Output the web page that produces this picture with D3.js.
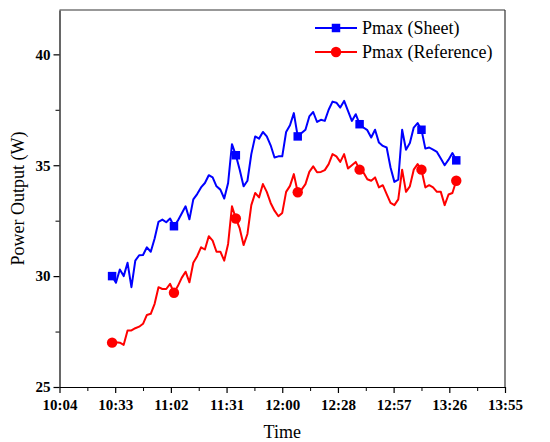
<!DOCTYPE html>
<html>
<head>
<meta charset="utf-8">
<script src="https://cdn.jsdelivr.net/npm/d3@7"></script>
<style>
  body { margin: 0; background: #fff; }
  svg text { font-family: "Liberation Serif", "Times New Roman", serif; }
</style>
</head>
<body>
<div id="chart"></div>
<script>
var width = 550,
    height = 442;
var margin = { top: 10, right: 45, bottom: 55, left: 59.5 };

// time of each sample (hh:mm)
var times = [
  '10:32','10:34','10:36','10:38','10:40','10:42','10:44','10:46','10:48','10:50','10:52','10:54','10:56','10:58',
  '11:00','11:02','11:04','11:06','11:08','11:10','11:12','11:14','11:16','11:18','11:20','11:22','11:24','11:26','11:28','11:30',
  '11:32','11:34','11:36','11:38','11:40','11:42','11:44','11:46','11:48','11:50','11:52','11:54','11:56','11:58',
  '12:00','12:02','12:04','12:06','12:08','12:10','12:12','12:14','12:16','12:18','12:20','12:22','12:24','12:26','12:28','12:30',
  '12:32','12:34','12:36','12:38','12:40','12:42','12:44','12:46','12:48','12:50','12:52','12:54','12:56','12:58',
  '13:00','13:02','13:04','13:06','13:08','13:10','13:12','13:14','13:16','13:18','13:20','13:22','13:24','13:26','13:28','13:30'
];

var pmaxSheet = [
  30.0, 29.7, 30.3, 30.0, 30.6, 29.5, 30.7, 30.94, 30.95, 31.3,
  31.1, 31.7, 32.45, 32.55, 32.43, 32.6, 32.25, 32.5, 32.82, 33.15,
  32.56, 33.46, 33.7, 34.0, 34.2, 34.55, 34.45, 34.05, 33.9, 33.5,
  34.2, 35.95, 35.45, 34.8, 34.05, 34.3, 35.5, 36.3, 36.2, 36.5,
  36.3, 35.9, 35.35, 35.4, 35.4, 36.5, 36.8, 37.35, 36.3, 36.45,
  36.6, 37.2, 37.4, 36.95, 37.05, 37.0, 37.5, 37.87, 37.82, 37.6,
  37.9, 37.45, 37.0, 37.3, 36.85, 36.7, 36.58, 36.25, 36.6, 36.02,
  35.87, 35.8, 34.9, 34.25, 34.35, 36.6, 35.7, 36.0, 36.7, 36.9,
  36.6, 35.75, 35.8, 35.7, 35.6, 35.3, 35.0, 35.25, 35.55, 35.22
];

var pmaxReference = [
  27.0, 27.02, 27.0, 26.9, 27.55, 27.55, 27.65, 27.72, 27.85, 28.25,
  28.3, 28.75, 29.5, 29.42, 29.42, 29.65, 29.25, 29.55, 29.92, 30.2,
  29.72, 30.6, 30.9, 31.3, 31.2, 31.8, 31.6, 31.1, 31.1, 30.7,
  31.45, 33.15, 32.6, 32.15, 31.4, 31.9, 33.2, 33.75, 33.55, 34.15,
  33.8, 33.3, 32.95, 32.7, 32.85, 33.8, 34.07, 34.6, 33.78, 33.9,
  34.15, 34.7, 34.95, 34.68, 34.7, 34.78, 35.05, 35.5, 35.4, 35.15,
  35.5, 34.85, 35.0, 35.15, 34.8, 34.67, 34.37, 34.3, 34.45, 34.0,
  34.1, 33.7, 33.3, 33.2, 33.46, 34.8, 33.8, 34.05, 34.8, 35.05,
  34.8, 34.0, 34.1, 34.0, 33.8, 33.8, 33.2, 33.68, 33.75, 34.3
];

// sample indices that carry a symbol
var markerIdx = [0, 16, 32, 48, 64, 80, 89];

// axis ticks (minutes after midnight) and their labels
var xTicks = [604.8, 633.6, 662.4, 691.2, 720, 748.8, 777.6, 806.4, 835.2];
var xTickLabels = ['10:04', '10:33', '11:02', '11:31', '12:00', '12:28', '12:57', '13:26', '13:55'];
var yTicks = [25, 30, 35, 40];

var series = [
  { name: 'Pmax (Sheet)', values: pmaxSheet, color: '#0000ff', symbol: d3.symbolSquare },
  { name: 'Pmax (Reference)', values: pmaxReference, color: '#ff0000', symbol: d3.symbolCircle }
];

function toMinutes(s) {
  var p = s.split(':');
  return +p[0] * 60 + +p[1];
}
var mins = times.map(toMinutes);

var plotW = width - margin.left - margin.right,
    plotH = height - margin.top - margin.bottom;

var svg = d3.select('#chart')
  .append('svg')
  .attr('width', width)
  .attr('height', height);

var g = svg.append('g')
  .attr('transform', 'translate(' + margin.left + ',' + margin.top + ')');

var xScale = d3.scaleLinear()
  .domain([xTicks[0], xTicks[xTicks.length - 1]])
  .range([0, plotW]);

var yScale = d3.scaleLinear()
  .domain([25, 42])
  .range([plotH, 0]);

// minor ticks halfway between majors
var xMinor = xTicks.slice(1).map(function (t, i) { return (t + xTicks[i]) / 2; });
var yMinor = [27.5, 32.5, 37.5];

g.append('g')
  .attr('transform', 'translate(0,' + plotH + ')')
  .call(d3.axisBottom(xScale).tickValues(xMinor).tickSize(4).tickFormat(''))
  .call(function (a) { a.select('.domain').remove(); a.selectAll('line').attr('stroke', '#000'); });

g.append('g')
  .call(d3.axisLeft(yScale).tickValues(yMinor).tickSize(4).tickFormat(''))
  .call(function (a) { a.select('.domain').remove(); a.selectAll('line').attr('stroke', '#000'); });

var xAxis = g.append('g')
  .attr('transform', 'translate(0,' + plotH + ')')
  .call(d3.axisBottom(xScale)
    .tickValues(xTicks)
    .tickSize(6)
    .tickSizeOuter(0)
    .tickPadding(6)
    .tickFormat(function (d, i) { return xTickLabels[i]; }));

var yAxis = g.append('g')
  .call(d3.axisLeft(yScale)
    .tickValues(yTicks)
    .tickSize(6)
    .tickSizeOuter(0)
    .tickPadding(3));

[xAxis, yAxis].forEach(function (a) {
  a.selectAll('text')
    .style('font-family', '"Liberation Serif", serif')
    .style('font-size', '15px')
    .style('font-weight', 'bold')
    .attr('fill', '#000');
  a.selectAll('line').attr('stroke', '#000').attr('stroke-width', 1.2);
  a.select('.domain').attr('stroke', '#000').attr('stroke-width', 1.2);
});

// frame top and right
g.append('line')
  .attr('x1', 0).attr('x2', plotW).attr('y1', 0).attr('y2', 0)
  .attr('stroke', '#333').attr('stroke-width', 1.2);
g.append('line')
  .attr('x1', plotW).attr('x2', plotW).attr('y1', 0).attr('y2', plotH)
  .attr('stroke', '#333').attr('stroke-width', 1.2);

var line = d3.line()
  .x(function (d, i) { return xScale(mins[i]); })
  .y(function (d) { return yScale(d); });

series.forEach(function (s) {
  g.append('path')
    .datum(s.values)
    .attr('fill', 'none')
    .attr('stroke', s.color)
    .attr('stroke-width', 2)
    .attr('stroke-linejoin', 'round')
    .attr('d', line);

  g.selectAll(null)
    .data(markerIdx)
    .enter()
    .append('path')
    .attr('d', d3.symbol().type(s.symbol).size(s.symbol === d3.symbolSquare ? 72 : 85))
    .attr('transform', function (i) {
      return 'translate(' + xScale(mins[i]) + ',' + yScale(s.values[i]) + ')';
    })
    .attr('fill', s.color);
});

// legend
var legend = svg.append('g').attr('transform', 'translate(315, 28)');
series.forEach(function (s, i) {
  var row = legend.append('g').attr('transform', 'translate(0,' + i * 24 + ')');
  row.append('line')
    .attr('x1', 0).attr('x2', 42)
    .attr('stroke', s.color)
    .attr('stroke-width', 2);
  row.append('path')
    .attr('d', d3.symbol().type(s.symbol).size(s.symbol === d3.symbolSquare ? 72 : 85))
    .attr('transform', 'translate(21,0)')
    .attr('fill', s.color);
  row.append('text')
    .attr('x', 47)
    .attr('dy', '0.35em')
    .style('font-size', '18px')
    .text(s.name);
});

// axis titles
svg.append('text')
  .attr('x', margin.left + plotW / 2)
  .attr('y', 438)
  .attr('text-anchor', 'middle')
  .style('font-size', '18px')
  .text('Time');

svg.append('text')
  .attr('transform', 'rotate(-90)')
  .attr('x', -(margin.top + plotH / 2))
  .attr('y', 24)
  .attr('text-anchor', 'middle')
  .style('font-size', '18px')
  .text('Power Output (W)');
</script>
</body>
</html>
